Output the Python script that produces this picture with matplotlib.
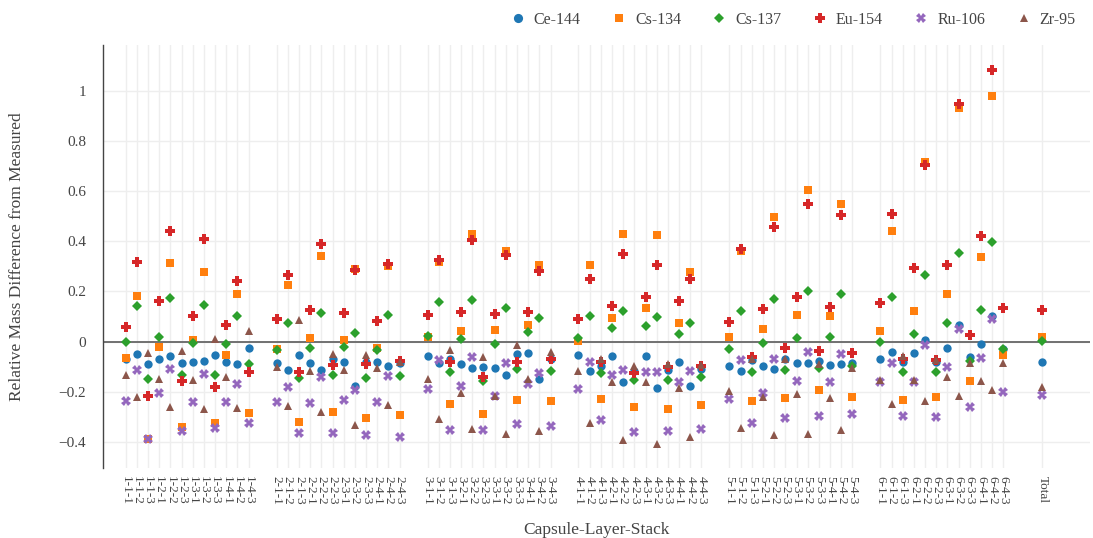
import numpy as np
import matplotlib.pyplot as plt
from matplotlib.ticker import FuncFormatter

# Stack labels: capsule-layer-stack, then the overall total
labels = [f"{c}-{l}-{s}" for c in range(1, 7) for l in range(1, 5) for s in range(1, 4)] + ["Total"]

ce144 = [-0.07, -0.049, -0.089, -0.068, -0.059, -0.084, -0.080, -0.077, -0.055, -0.080, -0.089, -0.025,
         -0.084, -0.113, -0.055, -0.084, -0.112, -0.071, -0.083, -0.175, -0.083, -0.080, -0.099, -0.084,
         -0.059, -0.087, -0.069, -0.089, -0.107, -0.100, -0.105, -0.135, -0.049, -0.044, -0.149, -0.068,
         -0.055, -0.119, -0.096, -0.057, -0.163, -0.116, -0.056, -0.185, -0.112, -0.081, -0.175, -0.111,
         -0.097, -0.117, -0.073, -0.097, -0.111, -0.071, -0.087, -0.087, -0.077, -0.093, -0.088, -0.087,
         -0.068, -0.041, -0.080, -0.044, 0.005, -0.080, -0.024, 0.068, -0.060, -0.009, 0.101, -0.030,
         -0.083]
cs134 = [-0.064, 0.182, -0.387, -0.023, 0.315, -0.339, 0.007, 0.277, -0.323, -0.052, 0.188, -0.283,
         -0.029, 0.227, -0.319, 0.015, 0.341, -0.281, 0.008, 0.291, -0.304, -0.024, 0.301, -0.291,
         0.019, 0.317, -0.247, 0.041, 0.428, -0.288, 0.048, 0.361, -0.232, 0.068, 0.307, -0.235,
         0.004, 0.305, -0.228, 0.095, 0.429, -0.261, 0.136, 0.427, -0.268, 0.076, 0.277, -0.251,
         0.020, 0.360, -0.236, 0.052, 0.499, -0.224, 0.107, 0.606, -0.193, 0.101, 0.547, -0.220,
         0.041, 0.441, -0.232, 0.124, 0.716, -0.221, 0.189, 0.932, -0.156, 0.338, 0.979, -0.053,
         0.019]
cs137 = [0.0, 0.142, -0.148, 0.020, 0.173, -0.134, -0.007, 0.145, -0.134, -0.011, 0.101, -0.090,
         -0.033, 0.075, -0.145, -0.025, 0.113, -0.132, -0.020, 0.036, -0.144, -0.033, 0.105, -0.137,
         0.023, 0.157, -0.123, 0.012, 0.168, -0.157, -0.009, 0.135, -0.111, 0.039, 0.095, -0.116,
         0.015, 0.104, -0.124, 0.056, 0.123, -0.155, 0.061, 0.097, -0.153, 0.032, 0.075, -0.141,
         -0.028, 0.124, -0.120, -0.007, 0.169, -0.115, 0.015, 0.202, -0.107, 0.020, 0.188, -0.097,
         -0.001, 0.178, -0.123, 0.032, 0.264, -0.121, 0.076, 0.354, -0.076, 0.126, 0.398, -0.028,
         0.004]
eu154 = [0.060, 0.319, -0.215, 0.161, 0.443, -0.157, 0.102, 0.411, -0.180, 0.066, 0.241, -0.120,
         0.092, 0.264, -0.120, 0.125, 0.389, -0.092, 0.113, 0.287, -0.089, 0.081, 0.309, -0.077,
         0.108, 0.324, -0.081, 0.117, 0.404, -0.140, 0.111, 0.347, -0.081, 0.120, 0.283, -0.069,
         0.089, 0.249, -0.081, 0.143, 0.351, -0.127, 0.176, 0.305, -0.100, 0.164, 0.249, -0.096,
         0.080, 0.370, -0.060, 0.132, 0.457, -0.024, 0.176, 0.549, -0.036, 0.140, 0.505, -0.044,
         0.154, 0.510, -0.068, 0.293, 0.704, -0.072, 0.306, 0.949, 0.027, 0.421, 1.085, 0.134,
         0.125]
ru106 = [-0.235, -0.114, -0.387, -0.206, -0.110, -0.355, -0.242, -0.128, -0.344, -0.241, -0.168, -0.324,
         -0.241, -0.179, -0.365, -0.243, -0.143, -0.365, -0.231, -0.192, -0.372, -0.241, -0.137, -0.381,
         -0.187, -0.072, -0.353, -0.176, -0.063, -0.353, -0.217, -0.084, -0.328, -0.167, -0.127, -0.336,
         -0.187, -0.081, -0.311, -0.135, -0.115, -0.361, -0.123, -0.123, -0.356, -0.161, -0.116, -0.348,
         -0.228, -0.073, -0.325, -0.206, -0.068, -0.306, -0.156, -0.040, -0.297, -0.162, -0.048, -0.290,
         -0.160, -0.085, -0.298, -0.160, -0.015, -0.301, -0.101, 0.052, -0.261, -0.067, 0.092, -0.202,
         -0.214]
zr95 = [-0.132, -0.222, -0.044, -0.150, -0.261, -0.037, -0.153, -0.269, 0.009, -0.142, -0.266, 0.043,
        -0.103, -0.257, 0.085, -0.117, -0.279, -0.048, -0.113, -0.332, -0.053, -0.105, -0.252, -0.080,
        -0.149, -0.308, -0.033, -0.203, -0.347, -0.061, -0.217, -0.367, -0.012, -0.149, -0.356, -0.040,
        -0.117, -0.324, -0.068, -0.160, -0.391, -0.097, -0.160, -0.408, -0.089, -0.184, -0.380, -0.093,
        -0.197, -0.344, -0.070, -0.220, -0.372, -0.069, -0.210, -0.368, -0.089, -0.224, -0.352, -0.107,
        -0.154, -0.250, -0.057, -0.154, -0.236, -0.075, -0.140, -0.217, -0.084, -0.157, -0.192, -0.087,
        -0.182]

series = [
    ("Ce-144", ce144, "#1f77b4", "o", 6.0),
    ("Cs-134", cs134, "#ff7f0e", "s", 5.6),
    ("Cs-137", cs137, "#2ca02c", "D", 5.0),
    ("Eu-154", eu154, "#d62728", "P", 7.0),
    ("Ru-106", ru106, "#9467bd", "X", 6.5),
    ("Zr-95", zr95, "#8c564b", "^", 5.2),
]

# x positions: 12 stacks per capsule, a wider gap between capsules, then Total
xpos = []
for i in range(len(labels) - 1):
    cap, k = divmod(i, 12)
    xpos.append(cap * 13.5 + k)
xpos.append(xpos[-1] + 3.5)
xpos = np.array(xpos)

plt.rcParams['font.family'] = ['Liberation Serif', 'DejaVu Serif']

fig = plt.figure(figsize=(10.93, 5.38), dpi=100)
ax = fig.add_axes([103 / 1093, 1 - 468 / 538, (1090 - 103) / 1093, (468 - 45) / 538])

for name, vals, color, marker, ms in series:
    ax.plot(xpos, vals, linestyle='none', marker=marker, color=color,
            markersize=ms, markeredgewidth=0, label=name, zorder=3)

ax.axhline(0, color='#666666', linewidth=1.3, zorder=2)

ax.set_xlim(-2.03, 86.25)
ax.set_ylim(-0.504, 1.183)
ax.set_xticks(xpos)
ax.set_xticklabels(labels, rotation=-90, fontsize=9.5, color='#444444')
ax.set_yticks([-0.4, -0.2, 0, 0.2, 0.4, 0.6, 0.8, 1.0])
ax.yaxis.set_major_formatter(FuncFormatter(lambda v, p: f"{v:g}".replace('-', '\u2212')))
ax.tick_params(axis='y', labelsize=11, colors='#444444', length=0, pad=12)
ax.tick_params(axis='x', length=0, pad=6)
ax.grid(True, color='#eeeeee', linewidth=1, zorder=0)
ax.set_axisbelow(True)

for side in ['top', 'right', 'bottom']:
    ax.spines[side].set_visible(False)
ax.spines['left'].set_color('#444444')
ax.spines['left'].set_linewidth(1)

ax.set_ylabel("Relative Mass Difference from Measured", fontsize=12.5, color='#444444', labelpad=24)
ax.set_xlabel("Capsule-Layer-Stack", fontsize=12.5, color='#444444', labelpad=12)

fig.legend(loc='upper right', bbox_to_anchor=(1090 / 1093, 1.005), ncol=6, frameon=False,
           fontsize=11.5, handletextpad=0.5, columnspacing=1.9, markerscale=1.1,
           handlelength=1.0, labelcolor='#444444')

fig.savefig("out.png", dpi=100)
